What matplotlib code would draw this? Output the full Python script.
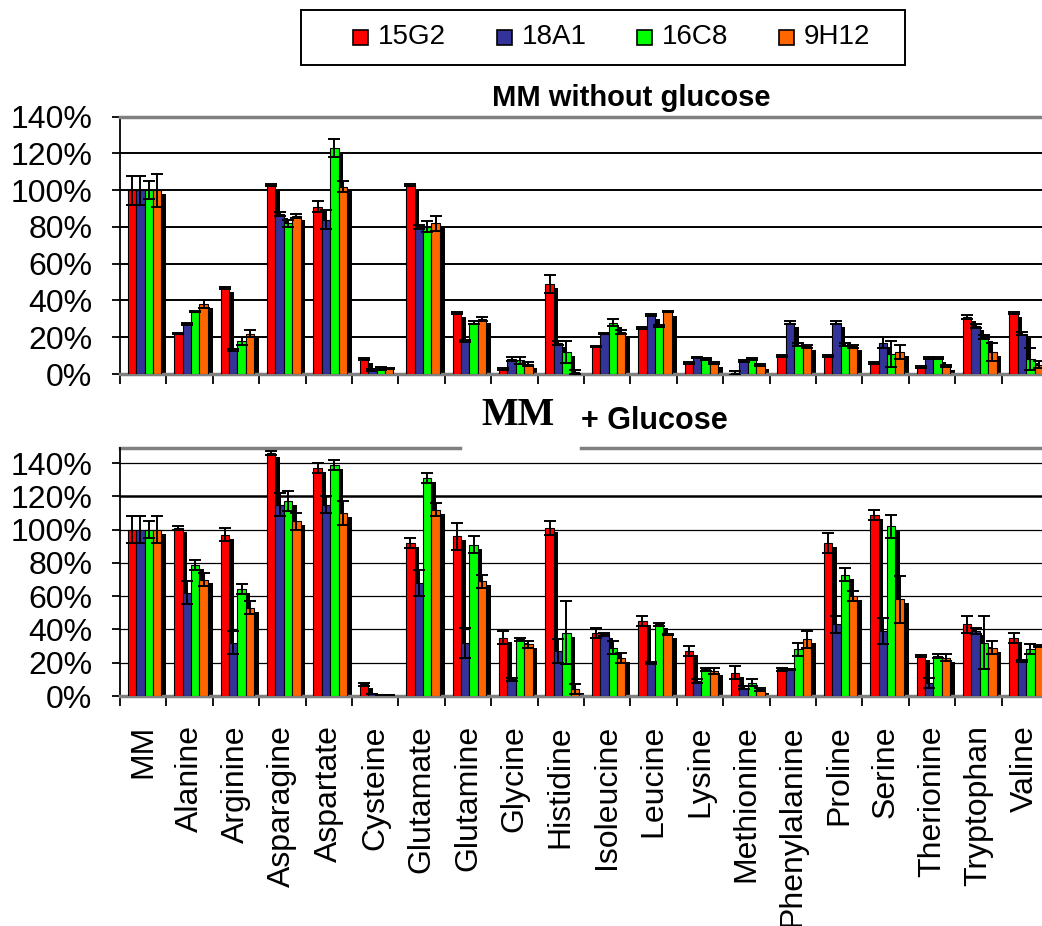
import numpy as np
import matplotlib
matplotlib.use('Agg')
import matplotlib.pyplot as plt
from matplotlib.patches import Rectangle

plt.rcParams['font.family'] = ['Liberation Sans', 'DejaVu Sans']

# ---- data -------------------------------------------------------------
amino_acids = ['MM', 'Alanine', 'Arginine', 'Asparagine', 'Aspartate', 'Cysteine',
               'Glutamate', 'Glutamine', 'Glycine', 'Histidine', 'Isoleucine',
               'Leucine', 'Lysine', 'Methionine', 'Phenylalanine', 'Proline',
               'Serine', 'Therionine', 'Tryptophan', 'Valine']
strains = ['15G2', '18A1', '16C8', '9H12']
colors = ['#FF0000', '#333399', '#00FF00', '#FF6600']

# MM without glucose (% of MM)
noglc_15G2 = [100, 22, 47, 103, 91, 8, 103, 33, 2.5, 49, 15, 25, 6, 0.5, 10, 10, 6, 4, 31, 33]
noglc_18A1 = [100, 27, 13, 87, 84, 2, 80, 18, 8, 17, 22, 32, 9, 7, 28, 28, 17, 8.5, 26, 22]
noglc_16C8 = [100, 34, 18, 82, 123, 3, 80, 28, 7.5, 12, 28, 26, 8, 8, 16, 16, 11, 8.5, 20, 8]
noglc_9H12 = [100, 38, 22, 86, 102, 3, 82, 30, 5.5, 1, 23, 34, 6, 5, 15, 15, 12, 4.5, 12, 5]

noglc_15G2_err = [8, 0.5, 0.5, 0.5, 3, 0.5, 0.5, 0.5, 0.5, 5, 0.5, 0.5, 0.5, 1, 0.5, 0.5, 0.5, 0.5, 1, 0.5]
noglc_18A1_err = [8, 0.5, 0.5, 1, 5, 0.5, 1, 0.5, 1, 1, 0.5, 0.5, 0.5, 0.5, 1, 1, 3, 0.5, 1, 1]
noglc_16C8_err = [5, 0.5, 2, 2, 5, 1, 3, 1, 2, 6, 2, 0.5, 0.5, 0.5, 1, 1, 7, 0.5, 1, 6]
noglc_9H12_err = [9, 2, 2, 1, 3, 0.5, 4, 1, 1, 1, 1, 0.5, 0.5, 0.5, 1, 1, 4, 0.5, 5, 2]

# MM + glucose (% of MM)
glc_15G2 = [100, 101, 97, 146, 137, 7, 92, 96, 35, 101, 38, 45, 27, 14, 16, 92, 109, 24, 43, 35]
glc_18A1 = [100, 62, 32, 115, 115, 1, 68, 32, 10, 27, 37, 20, 9, 5, 16, 43, 39, 8, 39, 21]
glc_16C8 = [100, 79, 64, 117, 139, 0.5, 131, 91, 34, 38, 29, 43, 16, 8, 28, 73, 102, 24, 32, 28]
glc_9H12 = [100, 70, 53, 105, 110, 0.5, 112, 69, 31, 4, 23, 37, 15, 4, 34, 60, 58, 23, 29, 30]

glc_15G2_err = [8, 1, 4, 1, 3, 1, 3, 8, 4, 4, 3, 3, 3, 4, 1, 6, 3, 0.5, 5, 3]
glc_18A1_err = [8, 7, 7, 7, 5, 0, 8, 9, 1, 7, 1, 0.5, 1, 1, 0.5, 5, 8, 3, 2, 0.5]
glc_16C8_err = [5, 3, 3, 6, 3, 0, 3, 5, 1, 19, 4, 1, 1, 2, 4, 4, 7, 1, 16, 3]
glc_9H12_err = [8, 4, 4, 5, 7, 0, 4, 4, 2, 3, 3, 0.5, 2, 1, 5, 3, 14, 2, 4, 0.5]

# ---- layout (pixels) ---------------------------------------------------
W, H = 1042, 926
fig = plt.figure(figsize=(W / 100, H / 100), dpi=100)

X0, X1 = 120, 1048          # plot area runs slightly past the right edge
GRAY = '#808080'
BAR_W = 0.182
BAR_START = 0.166
SHADOW_DX = 0.1


def draw_panel(ax, series, errors, ymax, shadow_dy, grid_lw):
    x = np.arange(len(amino_acids))
    for k, (vals, err) in enumerate(zip(series, errors)):
        vals = np.asarray(vals, dtype=float)
        left = x + BAR_START + k * BAR_W
        # black drop shadow behind every column
        ax.bar(left + SHADOW_DX, np.maximum(vals - shadow_dy, 0), width=BAR_W,
               align='edge', color='black', linewidth=0, zorder=2)
        ax.bar(left, vals, width=BAR_W, align='edge', color=colors[k],
               edgecolor='black', linewidth=0.8, zorder=3)
        ax.errorbar(left + BAR_W / 2, vals, yerr=err, fmt='none', ecolor='black',
                    elinewidth=1.4, capsize=4, capthick=1.4, zorder=4)

    ax.set_xlim(0, len(amino_acids))
    ax.set_ylim(0, ymax)
    ax.set_yticks(range(0, 141, 20))
    ax.set_yticklabels([f'{v}%' for v in range(0, 141, 20)], fontsize=23)
    ax.tick_params(axis='y', direction='out', length=6, width=1.3, pad=14)
    ax.set_xticks(range(len(amino_acids) + 1))
    ax.set_xticklabels([])
    ax.tick_params(axis='x', which='major', direction='out', length=7, width=1.3)
    ax.yaxis.grid(True, color='black', linewidth=grid_lw)
    ax.set_axisbelow(True)

    ax.spines['left'].set_color('black')
    ax.spines['left'].set_linewidth(1.3)
    ax.spines['bottom'].set_color(GRAY)
    ax.spines['bottom'].set_linewidth(2.5)
    ax.spines['right'].set_visible(False)


# top panel: MM without glucose
ax_top = fig.add_axes([X0 / W, 1 - 374 / H, (X1 - X0) / W, 257.3 / H])
draw_panel(ax_top,
           [noglc_15G2, noglc_18A1, noglc_16C8, noglc_9H12],
           [noglc_15G2_err, noglc_18A1_err, noglc_16C8_err, noglc_9H12_err],
           140, 2.2, 1.4)
ax_top.spines['top'].set_color(GRAY)
ax_top.spines['top'].set_linewidth(2.5)

# bottom panel: MM + glucose
ax_bot = fig.add_axes([X0 / W, 1 - 696 / H, (X1 - X0) / W, 248.3 / H])
draw_panel(ax_bot,
           [glc_15G2, glc_18A1, glc_16C8, glc_9H12],
           [glc_15G2_err, glc_18A1_err, glc_16C8_err, glc_9H12_err],
           149.2, 2.4, 0.9)
ax_bot.get_ygridlines()[6].set_linewidth(1.8)
ax_bot.spines['top'].set_visible(False)
# top frame line broken around the title
ax_bot.axhline(149.2, xmin=0, xmax=(460 - X0) / (X1 - X0), color=GRAY, lw=2.5, clip_on=False)
ax_bot.axhline(149.2, xmin=(581 - X0) / (X1 - X0), xmax=1, color=GRAY, lw=2.5, clip_on=False)

ax_bot.set_xticks(np.arange(len(amino_acids)) + 0.5, minor=True)
ax_bot.set_xticklabels(amino_acids, minor=True, rotation=90, fontsize=23)
ax_bot.tick_params(axis='x', which='minor', length=0, pad=21)

# titles
fig.text(631 / W, 1 - 105.5 / H, 'MM without glucose', ha='center', va='baseline',
         fontsize=21, fontweight='bold')
fig.text(481 / W, 1 - 425 / H, 'MM', ha='left', va='baseline', fontsize=28,
         fontweight='bold', family=['Liberation Serif', 'DejaVu Serif'])
fig.text(581 / W, 1 - 429 / H, '+ Glucose', ha='left', va='baseline',
         fontsize=22, fontweight='bold')

# legend box
fig.patches.append(Rectangle((300.5 / W, 1 - 65 / H), 604 / W, 55.5 / H,
                             transform=fig.transFigure, fill=False,
                             edgecolor='black', linewidth=1.4))
square_x = [352.5, 496.7, 636.6, 779]
for sx, name, c in zip(square_x, strains, colors):
    fig.patches.append(Rectangle((sx / W, 1 - 45 / H), 15 / W, 15.5 / H,
                                 transform=fig.transFigure, facecolor=c,
                                 edgecolor='black', linewidth=1.2))
    fig.text((sx + 25) / W, 1 - 37.5 / H, name, ha='left', va='center', fontsize=20)

fig.savefig('out.png', dpi=100)
